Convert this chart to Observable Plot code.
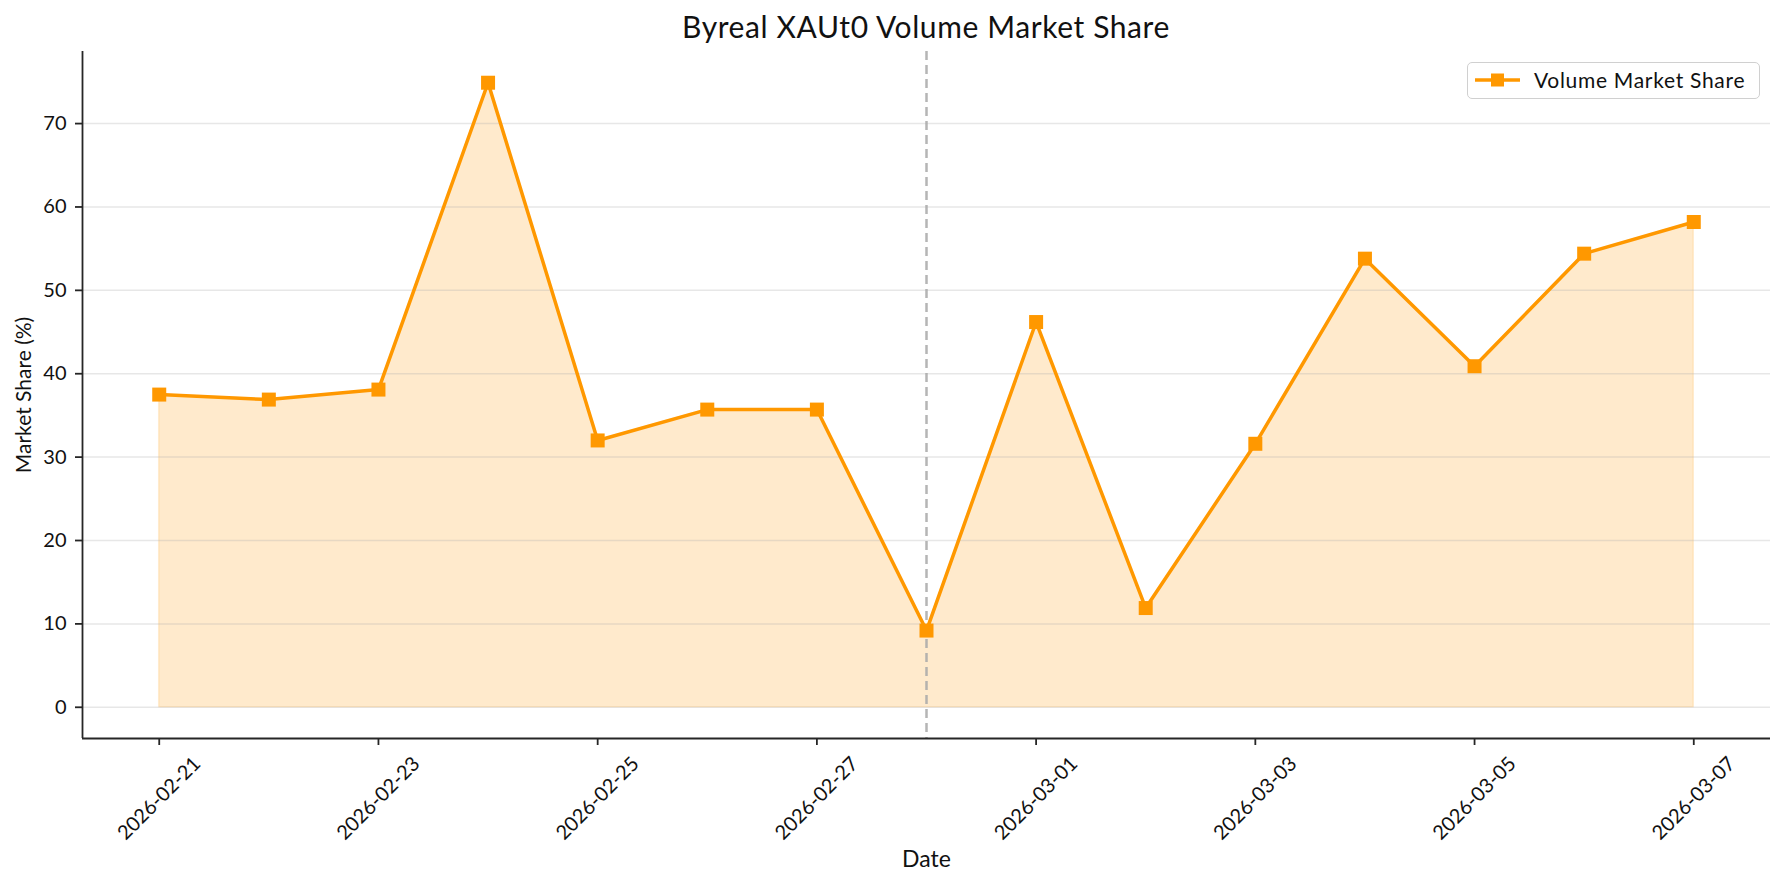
<!DOCTYPE html>
<html>
<head>
<meta charset="utf-8">
<script src="https://cdn.jsdelivr.net/npm/d3@7"></script>
<script src="https://cdn.jsdelivr.net/npm/@observablehq/plot@0.6"></script>
<style>
  html, body { margin: 0; padding: 0; background: #fff; overflow: hidden; }
  body { width: 1785px; height: 885px; position: relative; font-family: "Lato", "Noto Sans", sans-serif; color: #111; }
  #title { height: 44px; box-sizing: border-box; padding: 11px 15px 0 82px; text-align: center; font-size: 30px; letter-spacing: 0.6px; line-height: 1; white-space: nowrap; }
  #legend { position: absolute; left: 1467px; top: 62px; width: 293px; height: 37px; box-sizing: border-box; border: 1.5px solid #d0d0d0; border-radius: 5px; background: rgba(255,255,255,0.85); }
  #legend svg { position: absolute; left: 6px; top: 8px; }
  #legend span { position: absolute; left: 66px; top: 5px; font-size: 21px; letter-spacing: 0.7px; line-height: 24px; white-space: nowrap; }
  g[aria-label="x-tick-labels"] text { letter-spacing: 0.9px; }
  g[aria-label="y-title"] text { letter-spacing: 1.3px; }
  g[aria-label="x-title"] text { letter-spacing: 0.6px; }
</style>
</head>
<body>
<div id="title">Byreal XAUt0 Volume Market Share</div>
<div id="chart"></div>
<div id="legend">
  <svg width="48" height="18"><line x1="1" y1="9" x2="46" y2="9" stroke="#FF9800" stroke-width="3.5"/><rect x="17" y="2.5" width="13" height="13" fill="#FF9800"/></svg>
  <span>Volume Market Share</span>
</div>
<script>
const dates = ["2026-02-21","2026-02-22","2026-02-23","2026-02-24","2026-02-25","2026-02-26","2026-02-27","2026-02-28","2026-03-01","2026-03-02","2026-03-03","2026-03-04","2026-03-05","2026-03-06","2026-03-07"];
const shares = [37.5, 36.9, 38.1, 74.9, 32.0, 35.7, 35.7, 9.2, 46.2, 11.9, 31.6, 53.8, 40.9, 54.4, 58.2];
const tickDates = ["2026-02-21","2026-02-23","2026-02-25","2026-02-27","2026-03-01","2026-03-03","2026-03-05","2026-03-07"];
const yTicks = [0, 10, 20, 30, 40, 50, 60, 70];
const markerDate = "2026-02-28";

const parse = d3.utcParse("%Y-%m-%d");
const fmt = d3.utcFormat("%Y-%m-%d");
const data = dates.map((d, i) => ({date: parse(d), share: shares[i]}));
const ticks = tickDates.map(parse);

// matplotlib-like 5% margins
const x0 = parse(dates[0]), x1 = parse(dates[dates.length - 1]);
const xPad = (x1 - x0) * 0.05;
const xDomain = [new Date(+x0 - xPad), new Date(+x1 + xPad)];
const yMax = d3.max(shares), yMin = 0;
const yPad = (yMax - yMin) * 0.05;
const yDomain = [yMin - yPad, yMax + yPad];

const ORANGE = "#FF9800";
const AXIS = "#262626";

const chart = Plot.plot({
  width: 1785,
  height: 841,
  marginTop: 7,
  marginBottom: 147,
  marginLeft: 82,
  marginRight: 15,
  style: {fontFamily: "Lato, 'Noto Sans', sans-serif", color: "#111", background: "#fff"},
  x: {type: "utc", domain: xDomain},
  y: {domain: yDomain},
  marks: [
    Plot.areaY(data, {x: "date", y: "share", fill: ORANGE, fillOpacity: 0.2, stroke: ORANGE, strokeOpacity: 0.15, strokeWidth: 1.5}),
    Plot.gridY(yTicks, {stroke: "#b0b0b0", strokeOpacity: 0.3, strokeWidth: 1.5}),
    Plot.ruleX([parse(markerDate)], {stroke: "#a8a8a8", strokeOpacity: 0.85, strokeWidth: 2.5, strokeDasharray: "9,5"}),
    Plot.lineY(data, {x: "date", y: "share", stroke: ORANGE, strokeWidth: 3.5}),
    Plot.dot(data, {x: "date", y: "share", symbol: "square", r: 7.9, fill: ORANGE, stroke: "none"}),
    Plot.axisY(yTicks, {tickSize: 7, tickPadding: 9, fontSize: 20, stroke: AXIS, strokeWidth: 1.8, label: null, fill: "#111"}),
    Plot.axisX(ticks, {tickSize: 7, tickFormat: () => "", stroke: AXIS, strokeWidth: 1.8, label: null}),
    Plot.text(ticks, {x: d => d, text: d => fmt(d), frameAnchor: "bottom", dy: 60, rotate: -45, textAnchor: "middle", lineAnchor: "middle", fontSize: 20, fill: "#111", ariaLabel: "x-tick-labels"}),
    Plot.ruleX([xDomain[0]], {stroke: AXIS, strokeWidth: 1.8}),
    Plot.ruleY([yDomain[0]], {stroke: AXIS, strokeWidth: 1.8}),
    Plot.text(["Market Share (%)"], {frameAnchor: "left", dx: -58, rotate: -90, text: d => d, textAnchor: "middle", lineAnchor: "middle", fontSize: 21, fill: "#111", ariaLabel: "y-title"}),
    Plot.text(["Date"], {frameAnchor: "bottom", dy: 121, text: d => d, textAnchor: "middle", lineAnchor: "middle", fontSize: 23, fill: "#111", ariaLabel: "x-title"})
  ]
});
document.getElementById("chart").appendChild(chart);
</script>
</body>
</html>
